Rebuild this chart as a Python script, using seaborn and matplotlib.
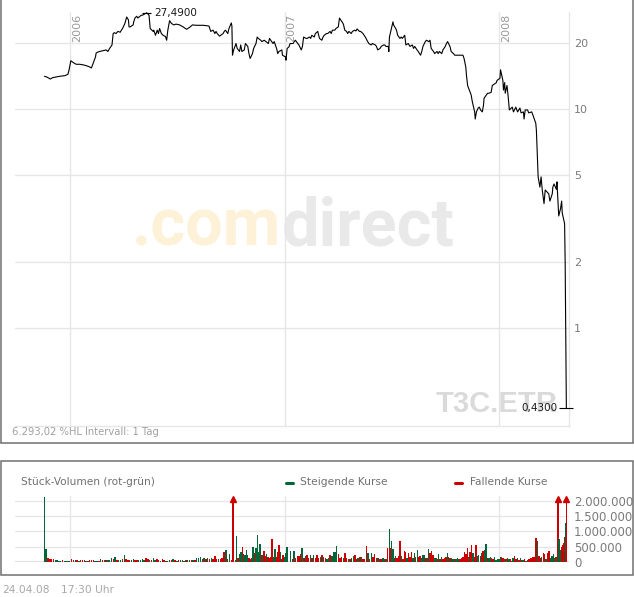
import numpy as np
import pandas as pd
import matplotlib
matplotlib.use("Agg")
import matplotlib.pyplot as plt
import matplotlib.transforms as mtransforms
import matplotlib.dates as mdates
from matplotlib.lines import Line2D
from matplotlib.patches import Rectangle
from matplotlib.ticker import NullLocator
import seaborn as sns

# ---------------- data ----------------
price_dates = [
    "2005-11-18", "2005-11-22", "2005-11-28", "2005-12-02", "2005-12-08", "2005-12-14", "2005-12-23",
    "2005-12-28", "2005-12-30", "2006-01-02", "2006-01-06", "2006-01-11", "2006-01-17", "2006-01-23",
    "2006-01-27", "2006-02-02", "2006-02-06", "2006-02-08", "2006-02-13", "2006-02-14", "2006-02-17",
    "2006-02-20", "2006-02-27", "2006-03-03", "2006-03-06", "2006-03-09", "2006-03-13", "2006-03-15",
    "2006-03-17", "2006-03-20", "2006-03-23", "2006-03-27", "2006-03-29", "2006-03-31", "2006-04-04",
    "2006-04-07", "2006-04-10", "2006-04-11", "2006-04-13", "2006-04-18", "2006-04-19", "2006-04-21",
    "2006-04-24", "2006-04-26", "2006-04-28", "2006-05-02", "2006-05-04", "2006-05-11", "2006-05-15",
    "2006-05-17", "2006-05-22", "2006-05-23", "2006-05-26", "2006-05-29", "2006-05-31", "2006-06-02",
    "2006-06-05", "2006-06-08", "2006-06-12", "2006-06-14", "2006-06-16", "2006-06-19", "2006-06-22",
    "2006-06-26", "2006-06-30", "2006-07-06", "2006-07-12", "2006-07-18", "2006-07-24", "2006-07-28",
    "2006-08-03", "2006-08-09", "2006-08-15", "2006-08-21", "2006-08-25", "2006-08-28", "2006-09-01",
    "2006-09-04", "2006-09-06", "2006-09-08", "2006-09-12", "2006-09-14", "2006-09-18", "2006-09-20",
    "2006-09-22", "2006-09-26", "2006-09-28", "2006-10-02", "2006-10-03", "2006-10-04", "2006-10-06",
    "2006-10-10", "2006-10-12", "2006-10-16", "2006-10-18", "2006-10-20", "2006-10-24", "2006-10-26",
    "2006-10-30", "2006-11-01", "2006-11-03", "2006-11-07", "2006-11-09", "2006-11-13", "2006-11-15",
    "2006-11-17", "2006-11-21", "2006-11-23", "2006-11-27", "2006-11-30", "2006-12-04", "2006-12-06",
    "2006-12-08", "2006-12-12", "2006-12-14", "2006-12-18", "2006-12-20", "2006-12-22", "2006-12-27",
    "2006-12-28", "2007-01-02", "2007-01-03", "2007-01-05", "2007-01-08", "2007-01-10", "2007-01-15",
    "2007-01-17", "2007-01-19", "2007-01-23", "2007-01-25", "2007-01-29", "2007-01-31", "2007-02-02",
    "2007-02-06", "2007-02-08", "2007-02-12", "2007-02-14", "2007-02-16", "2007-02-20", "2007-02-22",
    "2007-02-26", "2007-03-01", "2007-03-05", "2007-03-07", "2007-03-09", "2007-03-13", "2007-03-15",
    "2007-03-19", "2007-03-21", "2007-03-23", "2007-03-27", "2007-03-29", "2007-04-02", "2007-04-04",
    "2007-04-10", "2007-04-11", "2007-04-13", "2007-04-16", "2007-04-18", "2007-04-20", "2007-04-24",
    "2007-04-26", "2007-04-30", "2007-05-02", "2007-05-04", "2007-05-08", "2007-05-10", "2007-05-14",
    "2007-05-16", "2007-05-18", "2007-05-22", "2007-05-24", "2007-05-28", "2007-05-30", "2007-06-04",
    "2007-06-06", "2007-06-08", "2007-06-12", "2007-06-14", "2007-06-18", "2007-06-20", "2007-06-22",
    "2007-06-26", "2007-06-27", "2007-06-28", "2007-07-02", "2007-07-04", "2007-07-05", "2007-07-09",
    "2007-07-10", "2007-07-12", "2007-07-16", "2007-07-18", "2007-07-20", "2007-07-24", "2007-07-26",
    "2007-07-30", "2007-08-02", "2007-08-06", "2007-08-08", "2007-08-10", "2007-08-14", "2007-08-16",
    "2007-08-20", "2007-08-22", "2007-08-24", "2007-08-28", "2007-08-30", "2007-09-03", "2007-09-05",
    "2007-09-07", "2007-09-11", "2007-09-13", "2007-09-17", "2007-09-19", "2007-09-21", "2007-09-25",
    "2007-09-27", "2007-10-01", "2007-10-03", "2007-10-05", "2007-10-09", "2007-10-11", "2007-10-15",
    "2007-10-17", "2007-10-19", "2007-10-25", "2007-10-31", "2007-11-02", "2007-11-05", "2007-11-06",
    "2007-11-08", "2007-11-12", "2007-11-14", "2007-11-16", "2007-11-20", "2007-11-21", "2007-11-23",
    "2007-11-26", "2007-11-28", "2007-11-30", "2007-12-03", "2007-12-05", "2007-12-06", "2007-12-10",
    "2007-12-12", "2007-12-14", "2007-12-18", "2007-12-20", "2007-12-27", "2007-12-28", "2008-01-02",
    "2008-01-03", "2008-01-07", "2008-01-08", "2008-01-10", "2008-01-11", "2008-01-14", "2008-01-16",
    "2008-01-18", "2008-01-23", "2008-01-25", "2008-01-29", "2008-02-01", "2008-02-05", "2008-02-07",
    "2008-02-11", "2008-02-12", "2008-02-14", "2008-02-18", "2008-02-20", "2008-02-25", "2008-02-27",
    "2008-03-03", "2008-03-04", "2008-03-06", "2008-03-07", "2008-03-10", "2008-03-12", "2008-03-14",
    "2008-03-17", "2008-03-19", "2008-03-25", "2008-03-27", "2008-03-31", "2008-04-01", "2008-04-03",
    "2008-04-07", "2008-04-08", "2008-04-10", "2008-04-11", "2008-04-14", "2008-04-16", "2008-04-17",
    "2008-04-21", "2008-04-22", "2008-04-23", "2008-04-24",
]
price_values = [
    14.1, 14.0, 13.7, 13.9, 14.0, 14.1, 14.2,
    14.4, 15.1, 16.6, 16.3, 16.0, 16.0, 15.9,
    15.8, 15.6, 15.4, 15.9, 17.3, 18.0, 18.2,
    18.3, 18.5, 18.6, 18.3, 18.9, 19.6, 22.1,
    22.3, 22.1, 22.6, 22.4, 22.9, 23.3, 24.6,
    26.3, 25.5, 23.7, 23.7, 24.2, 25.0, 26.0,
    26.5, 26.0, 26.3, 26.8, 26.8, 27.49, 26.8,
    23.3, 22.6, 22.9, 21.7, 22.9, 22.1, 23.3,
    22.1, 21.7, 21.4, 20.6, 22.9, 25.3, 24.6,
    24.2, 24.4, 24.2, 23.7, 23.1, 23.7, 24.2,
    24.1, 24.1, 24.1, 24.0, 23.9, 22.6, 22.9,
    22.1, 22.6, 22.1, 21.5, 21.7, 22.1, 22.6,
    22.9, 22.1, 23.3, 24.7, 23.9, 17.6, 18.6,
    19.9, 18.9, 18.3, 19.6, 18.3, 18.6, 19.9,
    19.3, 17.9, 17.0, 17.9, 18.9, 19.9, 21.3,
    21.0, 20.6, 20.3, 20.6, 20.3, 19.9, 21.0,
    20.6, 19.9, 20.3, 18.9, 17.9, 18.3, 18.6,
    17.6, 17.3, 16.7, 18.9, 19.2, 19.9, 19.9,
    20.3, 20.6, 19.9, 19.6, 18.6, 19.3, 21.3,
    21.0, 21.0, 21.3, 21.0, 21.7, 21.3, 22.1,
    22.6, 21.0, 20.6, 21.3, 21.7, 22.1, 22.1,
    22.6, 22.1, 22.9, 22.9, 23.3, 23.7, 26.0,
    24.6, 24.2, 22.9, 22.6, 22.1, 22.6, 22.1,
    22.6, 22.9, 22.7, 23.2, 22.6, 22.6, 22.1,
    21.7, 21.3, 20.3, 19.9, 19.6, 19.9, 19.6,
    19.3, 18.6, 18.9, 19.3, 19.6, 19.6, 19.3,
    19.3, 18.3, 21.3, 23.7, 25.0, 24.2, 23.2,
    22.9, 21.7, 21.0, 21.3, 21.0, 21.7, 19.6,
    19.9, 19.3, 19.6, 18.9, 19.3, 18.6, 18.3,
    17.6, 18.3, 19.3, 20.3, 20.6, 20.3, 20.6,
    18.9, 18.3, 17.9, 18.3, 17.9, 18.3, 17.9,
    18.6, 19.3, 19.9, 20.3, 19.3, 18.3, 17.9,
    17.6, 17.6, 17.6, 17.6, 17.0, 15.5, 14.3,
    12.8, 12.0, 11.6, 10.8, 9.7, 9.0, 9.7,
    10.1, 10.2, 9.9, 9.7, 10.4, 11.2, 11.6,
    11.8, 11.8, 11.9, 12.8, 13.2, 13.5, 13.8,
    15.1, 13.5, 12.2, 13.2, 11.8, 12.8, 11.4,
    9.9, 10.2, 9.7, 10.2, 9.7, 10.1, 9.6,
    9.7, 9.0, 9.9, 9.9, 9.6, 9.7, 9.4,
    8.6, 8.0, 5.85, 4.9, 4.4, 4.9, 4.27,
    3.7, 4.27, 4.1, 3.8, 4.1, 4.4, 4.55,
    4.3, 4.65, 3.7, 3.25, 3.5, 3.8, 3.35,
    3.0, 1.95, 0.93, 0.43,
]

# daily volume (thousand shares), read in order along each span; G = rising, R = falling
vol_span1 = ("2005-11-18", "2006-10-05")
vol_s1 = [2150, 408, 110, 77, 77, 77, 55, 55, 33, 33,
          55, 33, 33, 33, 22, 77, 55, 44, 55, 33,
          44, 55, 44, 33, 33, 66, 66, 55, 33, 33,
          33, 77, 55, 66, 55, 55, 66, 121, 77, 155,
          44, 55, 55, 77, 221, 77, 55, 55, 55, 77,
          66, 55, 55, 55, 77, 55, 121, 77, 44, 55,
          121, 66, 77, 55, 33, 88, 44, 33, 33, 44,
          55, 77, 55, 33, 66, 55, 55, 33, 44, 55,
          44, 55, 66, 44, 121, 110, 155, 88, 132, 77,
          121, 77, 110, 77, 188, 77, 99, 88, 110, 320,
          386, 99, 254, 55, 2600]
dir_s1 = ("GGRRRRGGGG" "RGGGGRRGRG" "RRGRGRRRGG" "RGRGRGGGRG" "RGGRGRRRGG"
          "RRGGGGRRGR" "GGRRGRRGRG" "RGRGRGGRGR" "GRGRGGGRGR" "GRGRRRGRRR" "GRGRR")

vol_span2 = ("2006-10-09", "2007-01-05")
vol_s2 = [55, 850, 110, 254, 320, 497, 254, 221, 386, 221,
          121, 88, 110, 497, 276, 442, 883, 331, 585, 221,
          221, 353, 188, 254, 143, 110, 166, 751, 166, 408,
          143, 320, 552, 331, 77, 221, 143, 276, 475]
dir_s2 = "GGRGGRGGGG" "RGRGRGGGGR" "GRRGRRRRGG" "RRRGRRGGG"

vol_span3 = ("2007-01-11", "2007-06-28")
vol_s3 = [353, 99, 353, 110, 188, 188, 254, 453, 110, 188,
          221, 110, 221, 110, 221, 110, 210, 110, 166, 210,
          143, 110, 77, 110, 210, 199, 320, 320, 519, 254,
          110, 166, 110, 298, 132, 99, 88, 110, 188, 221,
          77, 110, 166, 155, 99, 77, 519, 276, 88, 276,
          166, 243, 110, 110, 77, 99, 132, 77, 77, 442,
          1071]
dir_s3 = ("GRGRRRRGRG" "RRGRGRRRGR" "GRGGRGGGGR" "RRGRRRGRGR" "RGRGRRRGRG"
          "RRRGRRGRGR" "G")

vol_span4 = ("2007-06-29", "2008-04-09")
vol_s4 = [442, 684, 408, 110, 188, 132, 188, 684, 188, 77,
          353, 320, 110, 276, 166, 331, 110, 298, 166, 386,
          166, 188, 110, 221, 210, 110, 110, 408, 276, 342,
          221, 110, 110, 77, 254, 88, 166, 77, 110, 166,
          298, 143, 110, 110, 77, 88, 88, 110, 77, 77,
          110, 166, 331, 243, 442, 166, 331, 552, 276, 166,
          552, 188, 221, 188, 298, 342, 386, 585, 110, 132,
          166, 110, 88, 166, 55, 77, 77, 166, 143, 110,
          77, 77, 132, 77, 77, 33, 110, 188, 77, 110,
          55, 110, 55, 55, 77, 33, 55, 77, 110, 132,
          166, 166, 784, 684, 188, 110, 166, 298, 254, 77,
          298, 353, 110, 188, 243, 110, 166, 55]
dir_s4 = ("RGGRGRRRGR" "RRGRRRGGRG" "RRGGGRGGRR" "RGGRGRGRRR" "GRGRGRGGGR"
          "RRRRRGRRGR" "RGGRGRGGRG" "GRRGGGGGRR" "RGRGRRGRRG" "RGRGRRGRRR"
          "RRRGRRGRRG" "RRGGGRGG")

vol_span5 = ("2008-04-10", "2008-04-24")
vol_s5 = [2600, 740, 386, 475, 552, 607, 828, 1270, 2600]
dir_s5 = "RGGRRRRGR"

year_starts = ["2006-01-01", "2007-01-01", "2008-01-01"]
year_labels = ["2006", "2007", "2008"]
price_ticks = [1, 2, 5, 10, 20]
vol_ticks = [0, 500000, 1000000, 1500000, 2000000]

# ---------------- build frames ----------------
price_df = pd.DataFrame({"date": pd.to_datetime(price_dates), "price": price_values})

vol_parts = []
for span, vals, dirs in [(vol_span1, vol_s1, dir_s1), (vol_span2, vol_s2, dir_s2),
                         (vol_span3, vol_s3, dir_s3), (vol_span4, vol_s4, dir_s4),
                         (vol_span5, vol_s5, dir_s5)]:
    n = min(len(vals), len(dirs))
    dts = pd.date_range(span[0], span[1], periods=n)
    vol_parts.append(pd.DataFrame({"date": dts, "vol": np.array(vals[:n]) * 1000.0,
                                   "dir": list(dirs[:n])}))
vol_df = pd.concat(vol_parts, ignore_index=True)
vol_num = mdates.date2num(vol_df["date"].dt.to_pydatetime())

# ---------------- figure ----------------
sns.set_theme(style="white")
plt.rcParams["font.family"] = ["DejaVu Sans"]

W, H = 634, 597
fig = plt.figure(figsize=(W / 100, H / 100), dpi=100)
fig.patch.set_facecolor("white")


def fx(x):
    return x / W


def fy(y):
    return 1 - y / H


GRID = "#e6e6e6"
GREEN = "#00663a"
RED = "#cc0000"
TICKC = "#7a7a7a"

x0, x1 = 15, 569.3
ax = fig.add_axes([fx(x0), fy(425.6), fx(x1) - fx(x0), fy(11.7) - fy(425.6)])
axv = fig.add_axes([fx(x0), fy(561.7), fx(x1) - fx(x0), fy(496) - fy(561.7)])

xmin = mdates.date2num(pd.Timestamp("2005-09-29").to_pydatetime())
xmax = mdates.date2num(pd.Timestamp("2008-04-29").to_pydatetime())
year_num = [mdates.date2num(pd.Timestamp(d).to_pydatetime()) for d in year_starts]

# ---- price panel ----
sns.lineplot(data=price_df, x="date", y="price", ax=ax, color="black", lw=0.8,
             estimator=None, zorder=3)
ax.set_yscale("log")
ax.set_ylim(0.359, 27.8)
ax.set_xlim(xmin, xmax)
ax.set_xlabel("")
ax.set_ylabel("")
ax.yaxis.tick_right()
ax.set_yticks(price_ticks)
ax.set_yticklabels([str(t) for t in price_ticks])
ax.yaxis.set_minor_locator(NullLocator())
ax.set_xticks(year_num)
ax.tick_params(axis="x", length=0, labelbottom=False)
ax.tick_params(axis="y", length=0, pad=3.5, labelsize=8, labelcolor=TICKC)
ax.grid(True, color=GRID, lw=1)
ax.set_axisbelow(True)
for s in ["left", "top"]:
    ax.spines[s].set_visible(False)
for s in ["right", "bottom"]:
    ax.spines[s].set_color(GRID)
    ax.spines[s].set_linewidth(1)

trans_year = mtransforms.blended_transform_factory(ax.transData, ax.transAxes)
for d, lab in zip(year_num, year_labels):
    ax.annotate(lab, xy=(d, 0.9944), xycoords=trans_year, xytext=(1.0, 0),
                textcoords="offset points", rotation=90, ha="left", va="top",
                fontsize=8, color="#9a9a9a")

# peak & last annotations
pnum = mdates.date2num(price_df["date"].dt.to_pydatetime())
pvals = price_df["price"].values.astype(float)
ipk = int(np.argmax(pvals))
pk_date, pk_val = float(pnum[ipk]), float(pvals[ipk])
ax.hlines(pk_val, pk_date - 8, pk_date + 8, color="black", lw=0.8, zorder=3)
ax.annotate(f"{pk_val:.4f}".replace(".", ","), xy=(pk_date, pk_val), xytext=(5.3, 0),
            textcoords="offset points", ha="left", va="center", fontsize=7.5, color="#1a1a1a")
ls_date, ls_val = float(pnum[-1]), float(pvals[-1])
ax.hlines(ls_val, ls_date - 13, ls_date + 11, color="black", lw=0.8, zorder=3, clip_on=False)
ax.annotate(f"{ls_val:.4f}".replace(".", ","), xy=(ls_date, ls_val), xytext=(-6.5, 0),
            textcoords="offset points", ha="right", va="center", fontsize=7.5, color="#1a1a1a")

# watermarks
ax.text(fx(131.7), fy(246), ".com", transform=fig.transFigure, fontsize=48,
        family="Roboto", fontweight="bold", color="#fdf2d8", va="baseline", ha="left", zorder=0.3)
ax.text(fx(281.7), fy(246), "direct", transform=fig.transFigure, fontsize=48,
        family="Roboto", fontweight="bold", color="#e9e9e9", va="baseline", ha="left", zorder=0.3)
ax.text(fx(557), fy(404.5), "T3C.ETR", transform=fig.transFigure, fontsize=21,
        family="Liberation Sans", fontweight="bold", color="#dadada", va="center", ha="right",
        zorder=0.3)

fig.text(fx(12), fy(432), "6.293,02 %HL Intervall: 1 Tag", fontsize=7.2, color="#a0a0a0",
         va="center", ha="left")

# ---- volume panel ----
top = 2.175e6
vv = vol_df["vol"].values
over = vv > top
heights = np.where(over, 2.0e6, vv)
colors = [GREEN if d == "G" else RED for d in vol_df["dir"]]
axv.bar(vol_num, heights, width=2.4, color=colors, linewidth=0, zorder=3)
for d in vol_num[over]:
    axv.hlines(2.0e6, d - 3.5, d + 3.5, color=RED, lw=1.2, zorder=4, clip_on=False)
    axv.plot([d], [2.09e6], marker="^", ms=4.5, color=RED, mec=RED, zorder=4, clip_on=False)
axv.set_xlim(xmin, xmax)
axv.set_ylim(0, top)
axv.yaxis.tick_right()
axv.set_yticks(vol_ticks)
axv.set_yticklabels([f"{t:,}".replace(",", ".") for t in vol_ticks])
axv.set_xticks(year_num)
axv.tick_params(axis="x", length=0, labelbottom=False)
axv.tick_params(axis="y", length=0, pad=3.5, labelsize=8.5, labelcolor=TICKC)
axv.grid(True, color=GRID, lw=1)
axv.set_axisbelow(True)
axv.axhline(0, color="#e0e0e0", lw=1.6, zorder=2)
for s in axv.spines.values():
    s.set_visible(False)

fig.text(fx(21), fy(482), "Stück-Volumen (rot-grün)", fontsize=7.6, color="#707070",
         va="center", ha="left")
fig.add_artist(Line2D([fx(286), fx(293)], [fy(483), fy(483)], color=GREEN, lw=2.2))
fig.text(fx(300), fy(482), "Steigende Kurse", fontsize=7.7, color="#707070", va="center", ha="left")
fig.add_artist(Line2D([fx(455), fx(462)], [fy(483), fy(483)], color=RED, lw=2.2))
fig.text(fx(470), fy(482), "Fallende Kurse", fontsize=7.7, color="#707070", va="center", ha="left")

fig.text(fx(2), fy(590), "24.04.08", fontsize=7.7, color="#a8a8a8", va="center", ha="left")
fig.text(fx(61), fy(590), "17:30 Uhr", fontsize=7.7, color="#a8a8a8", va="center", ha="left")

# ---- panel borders ----
BC = "#707070"
fig.add_artist(Line2D([fx(0.6), fx(0.6)], [fy(0), fy(442.8)], color=BC, lw=1.1))
fig.add_artist(Line2D([fx(632.8), fx(632.8)], [fy(0), fy(442.8)], color=BC, lw=1.1))
fig.add_artist(Line2D([fx(0.6), fx(632.8)], [fy(442.8), fy(442.8)], color=BC, lw=1.1))
fig.add_artist(Rectangle((fx(0.6), fy(574.8)), fx(632.8) - fx(0.6), fy(460.7) - fy(574.8),
                         transform=fig.transFigure, fill=False, edgecolor=BC, lw=1.1))

fig.savefig("out.png", dpi=100, facecolor="white")
